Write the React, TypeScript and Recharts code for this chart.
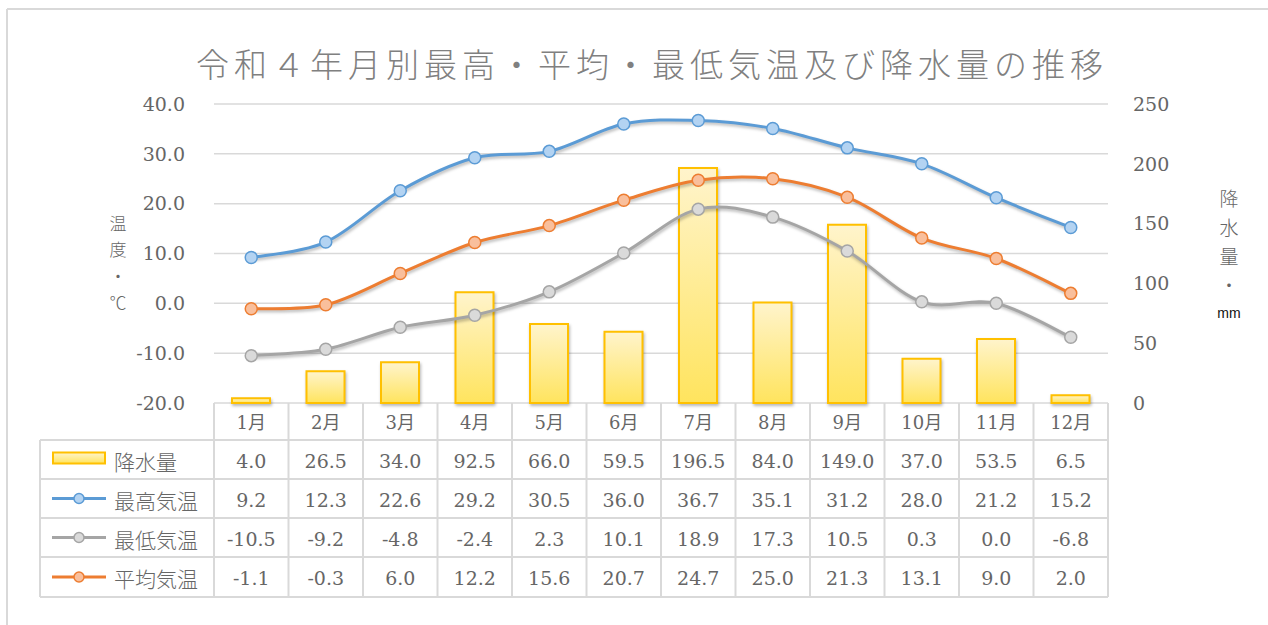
import { ComposedChart, Bar, Line, XAxis, YAxis, CartesianGrid } from "recharts";

const months = ["1月", "2月", "3月", "4月", "5月", "6月", "7月", "8月", "9月", "10月", "11月", "12月"];
const rain = [4.0, 26.5, 34.0, 92.5, 66.0, 59.5, 196.5, 84.0, 149.0, 37.0, 53.5, 6.5];
const maxTemp = [9.2, 12.3, 22.6, 29.2, 30.5, 36.0, 36.7, 35.1, 31.2, 28.0, 21.2, 15.2];
const minTemp = [-10.5, -9.2, -4.8, -2.4, 2.3, 10.1, 18.9, 17.3, 10.5, 0.3, 0.0, -6.8];
const avgTemp = [-1.1, -0.3, 6.0, 12.2, 15.6, 20.7, 24.7, 25.0, 21.3, 13.1, 9.0, 2.0];
const tempTicks = [-20, -10, 0, 10, 20, 30, 40];
const rainTicks = [0, 50, 100, 150, 200, 250];

const data = months.map((m, i) => ({
  month: m,
  rain: rain[i],
  maxT: maxTemp[i],
  minT: minTemp[i],
  avgT: avgTemp[i],
}));

// table rows, in the order of the reference
const rows = [
  { name: "降水量", values: rain, kind: "bar", color: "#ffc000", fill: "#ffe98a" },
  { name: "最高気温", values: maxTemp, kind: "line", color: "#5b9bd5", fill: "#b3d3f2" },
  { name: "最低気温", values: minTemp, kind: "line", color: "#a5a5a5", fill: "#dadada" },
  { name: "平均気温", values: avgTemp, kind: "line", color: "#ed7d31", fill: "#f9bf9c" },
];

const PLOT_L = 214;
const PLOT_R = 1108;
const TABLE_LEFT = 40;
const ROW_Y = [403, 440, 479, 518, 557, 597];
const GRID = "#d9d9d9";
const TEXT = "#666666";
const NUM_FONT = "'DejaVu Serif', 'Noto Sans CJK JP', serif";
const JP_FONT = "'Noto Sans CJK JP', sans-serif";

// Excel-like smoothed line (cardinal spline through the points)
const excelSmooth = (context: any) => {
  let pts: number[][] = [];
  return {
    areaStart() {},
    areaEnd() {},
    lineStart() {
      pts = [];
    },
    point(x: number, y: number) {
      pts.push([+x, +y]);
    },
    lineEnd() {
      if (!pts.length) return;
      context.moveTo(pts[0][0], pts[0][1]);
      const t = 1 / 6;
      for (let i = 0; i < pts.length - 1; i++) {
        const p0 = pts[i - 1] || pts[i];
        const p1 = pts[i];
        const p2 = pts[i + 1];
        const p3 = pts[i + 2] || p2;
        context.bezierCurveTo(
          p1[0] + (p2[0] - p0[0]) * t,
          p1[1] + (p2[1] - p0[1]) * t,
          p2[0] - (p3[0] - p1[0]) * t,
          p2[1] - (p3[1] - p1[1]) * t,
          p2[0],
          p2[1],
        );
      }
    },
  };
};

function TableTick(props: any) {
  const { x, payload } = props;
  const i = payload.index;
  const band = (PLOT_R - PLOT_L) / months.length;
  const left = x - band / 2;
  return (
    <g>
      <line x1={left} y1={ROW_Y[0]} x2={left} y2={ROW_Y[5]} stroke={GRID} strokeWidth={2} />
      {i === months.length - 1 && (
        <line x1={left + band} y1={ROW_Y[0]} x2={left + band} y2={ROW_Y[5]} stroke={GRID} strokeWidth={2} />
      )}
      <text
        x={x}
        y={(ROW_Y[0] + ROW_Y[1]) / 2 + 1}
        textAnchor="middle"
        dominantBaseline="central"
        fontFamily={NUM_FONT}
        fontSize={18}
        fill={TEXT}
      >
        {payload.value}
      </text>
      {rows.map((r, k) => (
        <text
          key={r.name}
          x={x}
          y={(ROW_Y[k + 1] + ROW_Y[k + 2]) / 2 + 1}
          textAnchor="middle"
          dominantBaseline="central"
          fontFamily={NUM_FONT}
          fontSize={19}
          fill={TEXT}
        >
          {r.values[i].toFixed(1)}
        </text>
      ))}
    </g>
  );
}

function Dot(color: string, fill: string) {
  return (p: any) =>
    p.cx == null ? null : (
      <circle key={p.index} cx={p.cx} cy={p.cy} r={6} fill={fill} stroke={color} strokeWidth={1.5} />
    );
}

export default function App() {
  return (
    <div style={{ position: "absolute", left: 0, top: 0, width: 1268, height: 625, background: "#fff" }}>
      <style>{`.recharts-line, .recharts-bar-rectangle { filter: drop-shadow(1px 2px 1.5px rgba(0,0,0,0.28)); }`}</style>
      <ComposedChart
        width={1268}
        height={625}
        data={data}
        margin={{ top: 104, right: 60, bottom: 22, left: 114 }}
      >
        <defs>
          <linearGradient id="rainFill" x1="0" y1="0" x2="0" y2="1">
            <stop offset="0%" stopColor="#fff4cc" />
            <stop offset="100%" stopColor="#ffe45e" />
          </linearGradient>
        </defs>
        <CartesianGrid yAxisId="t" vertical={false} stroke={GRID} strokeWidth={1.5} />
        <XAxis
          dataKey="month"
          height={200}
          interval={0}
          axisLine={false}
          tickLine={false}
          tick={<TableTick />}
        />
        <YAxis
          yAxisId="t"
          domain={[-20, 40]}
          ticks={tempTicks}
          width={100}
          axisLine={false}
          tickLine={false}
          tickSize={6}
          tickMargin={23}
          tickFormatter={(v: number) => v.toFixed(1)}
          tick={{ fontFamily: NUM_FONT, fontSize: 19, fill: TEXT }}
        />
        <YAxis
          yAxisId="r"
          orientation="right"
          domain={[0, 250]}
          ticks={rainTicks}
          width={100}
          axisLine={false}
          tickLine={false}
          tickSize={6}
          tickMargin={19}
          tick={{ fontFamily: NUM_FONT, fontSize: 19, fill: TEXT, textAnchor: "start" }}
        />
        <Bar
          yAxisId="r"
          dataKey="rain"
          barSize={38}
          fill="url(#rainFill)"
          stroke="#ffc000"
          strokeWidth={2}
          isAnimationActive={false}
        />
        <Line
          yAxisId="t"
          dataKey="maxT"
          type={excelSmooth as any}
          stroke="#5b9bd5"
          strokeWidth={3}
          dot={Dot("#5b9bd5", "#b3d3f2")}
          isAnimationActive={false}
        />
        <Line
          yAxisId="t"
          dataKey="minT"
          type={excelSmooth as any}
          stroke="#a5a5a5"
          strokeWidth={3}
          dot={Dot("#a5a5a5", "#dadada")}
          isAnimationActive={false}
        />
        <Line
          yAxisId="t"
          dataKey="avgT"
          type={excelSmooth as any}
          stroke="#ed7d31"
          strokeWidth={3}
          dot={Dot("#ed7d31", "#f9bf9c")}
          isAnimationActive={false}
        />
      </ComposedChart>

      {/* frame, title, axis titles and the legend column of the data table */}
      <svg width={1268} height={625} style={{ position: "absolute", left: 0, top: 0, pointerEvents: "none" }}>
        <line x1={7} y1={9} x2={1268} y2={9} stroke={GRID} strokeWidth={2} />
        <line x1={7} y1={9} x2={7} y2={625} stroke={GRID} strokeWidth={2} />
        <text
          x={652}
          y={63}
          textAnchor="middle"
          dominantBaseline="central"
          fontFamily={JP_FONT}
          fontWeight={300}
          fontSize={33}
          letterSpacing={5}
          fill="#808080"
        >
          令和４年月別最高・平均・最低気温及び降水量の推移
        </text>
        {["温", "度", "・", "℃"].map((c, i) => (
          <text
            key={c}
            x={118}
            y={222 + i * 26.5}
            textAnchor="middle"
            dominantBaseline="central"
            fontFamily={JP_FONT}
            fontWeight={300}
            fontSize={17}
            fill={TEXT}
          >
            {c}
          </text>
        ))}
        {["降", "水", "量", "・"].map((c, i) => (
          <text
            key={c}
            x={1229}
            y={197 + i * 29}
            textAnchor="middle"
            dominantBaseline="central"
            fontFamily={JP_FONT}
            fontWeight={300}
            fontSize={19}
            fill={TEXT}
          >
            {c}
          </text>
        ))}
        <text x={1229} y={313} textAnchor="middle" dominantBaseline="central" fontFamily="'Liberation Sans', sans-serif" fontSize={14} fill="#111">
          mm
        </text>

        {ROW_Y.slice(1).map((y) => (
          <line key={y} x1={TABLE_LEFT} y1={y} x2={PLOT_R} y2={y} stroke={GRID} strokeWidth={2} />
        ))}
        <line x1={TABLE_LEFT} y1={ROW_Y[1]} x2={TABLE_LEFT} y2={ROW_Y[5]} stroke={GRID} strokeWidth={2} />
        {rows.map((r, k) => {
          const cy = (ROW_Y[k + 1] + ROW_Y[k + 2]) / 2;
          return (
            <g key={r.name}>
              {r.kind === "bar" ? (
                <rect x={53} y={cy - 7} width={52} height={11} fill="url(#legendRain)" stroke={r.color} strokeWidth={2} />
              ) : (
                <g>
                  <line x1={52} y1={cy} x2={106} y2={cy} stroke={r.color} strokeWidth={3} />
                  <circle cx={79} cy={cy} r={5} fill={r.fill} stroke={r.color} strokeWidth={1.5} />
                </g>
              )}
              <text
                x={114}
                y={cy + 1}
                dominantBaseline="central"
                fontFamily={JP_FONT}
                fontWeight={300}
                fontSize={21}
                fill={TEXT}
              >
                {r.name}
              </text>
            </g>
          );
        })}
        <defs>
          <linearGradient id="legendRain" x1="0" y1="0" x2="0" y2="1">
            <stop offset="0%" stopColor="#fff4cc" />
            <stop offset="100%" stopColor="#ffe45e" />
          </linearGradient>
        </defs>
      </svg>
    </div>
  );
}
